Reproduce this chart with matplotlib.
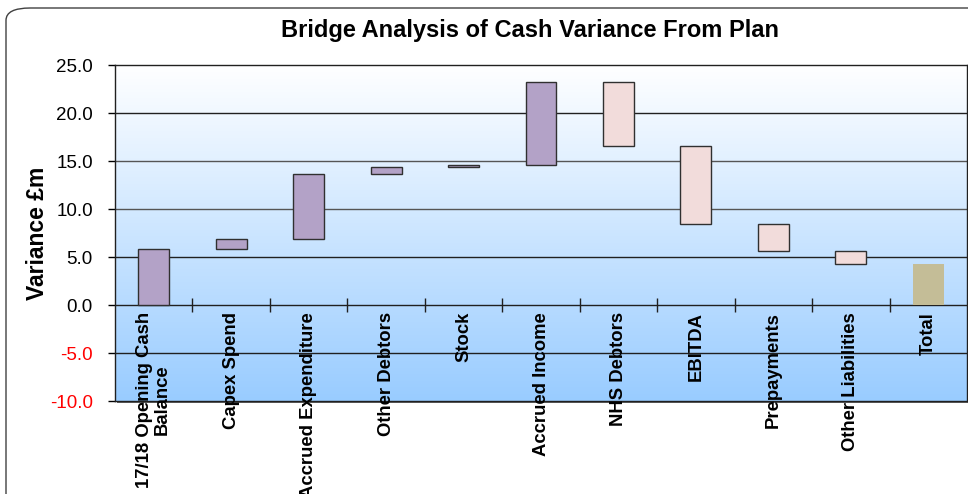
import numpy as np
import matplotlib
matplotlib.use("Agg")
import matplotlib.pyplot as plt
from matplotlib.patches import FancyBboxPatch, Rectangle
from matplotlib.colors import LinearSegmentedColormap
import matplotlib.transforms as mtransforms

plt.rcParams['font.family'] = ['Liberation Sans', 'DejaVu Sans']

categories = ["17/18 Opening Cash\nBalance", "Capex Spend", "Accrued Expenditure",
              "Other Debtors", "Stock", "Accrued Income", "NHS Debtors", "EBITDA",
              "Prepayments", "Other Liabilities", "Total"]
changes = [5.8, 1.1, 6.7, 0.8, 0.2, 8.6, -6.6, -8.2, -2.8, -1.3]
total = 4.3
yticks = [-10, -5, 0, 5, 10, 15, 20, 25]

purple = "#b3a2c7"
pink = "#f2dcdb"
tan = "#c4bd97"

fig = plt.figure(figsize=(9.68, 4.94), dpi=100)

# outer chart frame with rounded corner
frame = FancyBboxPatch((6 / 968, -0.2), 1.1, 1.2 - 8 / 494,
                       boxstyle="round,pad=0,rounding_size=0.025",
                       transform=fig.transFigure, fill=False,
                       edgecolor="#404040", lw=1.0)
fig.patches.append(frame)

ax = fig.add_axes([115 / 968, 1 - 401 / 494, 852 / 968, 336 / 494])

# shadow behind plot area
shadow = Rectangle((117 / 968, 1 - 403 / 494), 852 / 968, 336 / 494,
                   transform=fig.transFigure, facecolor="#606060",
                   edgecolor="none", zorder=-1)
fig.patches.append(shadow)

n = len(categories)
ax.set_xlim(-0.5, n - 0.5)
ax.set_ylim(-10, 25)

# gradient background
cmap = LinearSegmentedColormap.from_list("bg", ["#99ccff", "#ffffff"])
grad = np.linspace(0, 1, 256).reshape(-1, 1)
ax.imshow(grad, extent=[-0.5, n - 0.5, -10, 25], origin="lower",
          aspect="auto", cmap=cmap, zorder=0)

for y in yticks[1:-1]:
    ax.axhline(y, color="#202020" if y in (0, 5, 20, -5) else "#555555",
               lw=1.0, zorder=1)

ends = np.cumsum(changes)
starts = ends - np.array(changes)
x = np.arange(len(changes))
colors = [purple if c >= 0 else pink for c in changes]
ax.bar(x, np.array(changes), bottom=starts, width=0.4, color=colors,
       edgecolor="#303030", lw=1.0, zorder=3)
ax.bar([n - 1], [total], width=0.4, color=tan, edgecolor="none", zorder=3)

# category boundary ticks on zero line
bounds = np.arange(0.5, n - 1, 1.0)
ax.plot(bounds, np.zeros_like(bounds), ls="none", marker="|",
        markersize=10, color="#202020", markeredgewidth=1.0, zorder=4)

ax.set_xticks([])
ax.set_yticks(yticks)
ax.set_yticklabels([f"{v:.1f}" for v in yticks], fontsize=13.5)
for lbl, v in zip(ax.get_yticklabels(), yticks):
    lbl.set_color("red" if v < 0 else "black")
ax.tick_params(axis="y", direction="out", length=5, width=1, pad=11)

for s in ax.spines.values():
    s.set_color("#202020")
    s.set_linewidth(1.0)

offset = mtransforms.offset_copy(ax.transData, fig=fig, x=0, y=-5, units="points")
for i, cat in enumerate(categories):
    ax.text(i, 0, cat, rotation=90, ha="center", va="top", fontsize=13.3,
            fontweight="bold", transform=offset, multialignment="center",
            linespacing=1.05, clip_on=False, zorder=5)

ax.set_ylabel("Variance £m", fontsize=16.5, fontweight="bold")
ax.yaxis.set_label_coords(-0.077, 0.5)
fig.text(0.548, 1 - 30 / 494, "Bridge Analysis of Cash Variance From Plan",
         ha="center", va="center", fontsize=17, fontweight="bold")

fig.savefig("out.png", dpi=100)
